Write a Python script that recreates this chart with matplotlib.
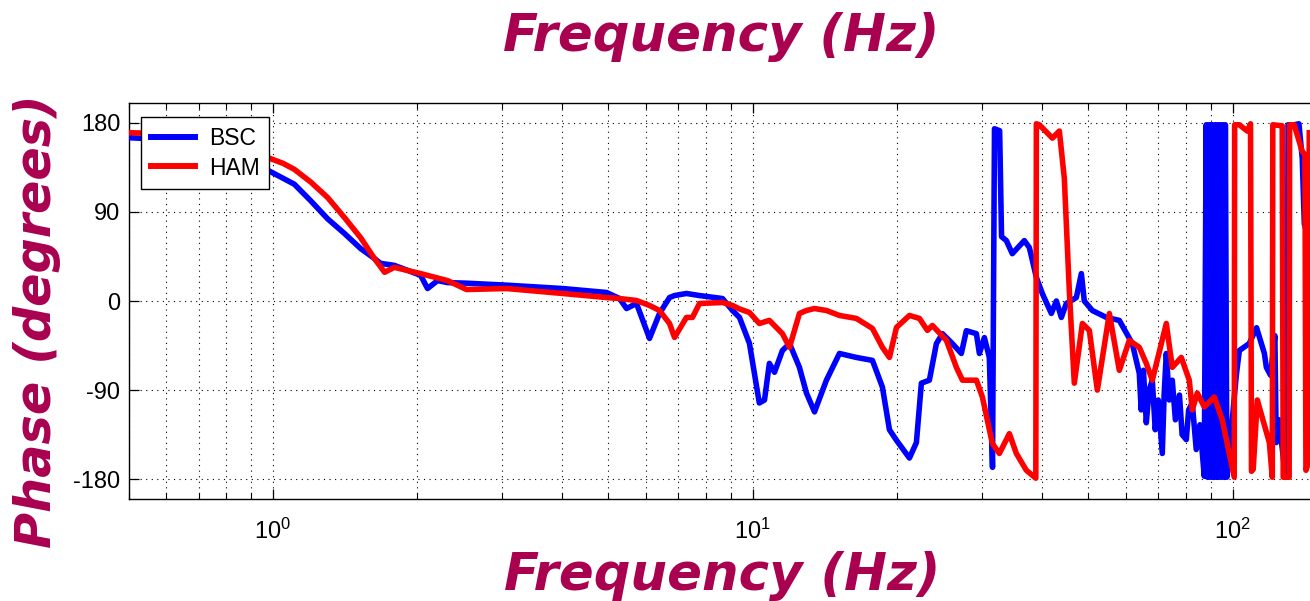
import matplotlib
matplotlib.use("Agg")
import matplotlib.pyplot as plt

# ---- measured phase responses -------------------------------------------
bsc_freq = [0.498, 0.55, 0.65, 0.75, 0.85, 0.95, 1.05, 1.108, 1.20, 1.30,
            1.411, 1.523, 1.627, 1.676, 1.79, 2.031, 2.10, 2.203, 2.312,
            2.532, 3.068, 4.013, 4.957, 5.277, 5.457, 5.724, 6.093, 6.392,
            6.707, 6.87, 7.274, 7.745, 8.648, 9.073, 9.383, 9.842, 10.32,
            10.58, 10.83, 11.10, 11.53, 11.93, 12.51, 12.94, 13.45, 14.24,
            15.16, 16.44, 17.76, 18.63, 19.27, 19.93, 21.21, 21.93, 22.46,
            23.34, 24.14, 24.85, 26.06, 27.21, 27.87, 29.25, 29.67, 30.39,
            31.12, 31.6, 31.9, 32.7, 33.0, 33.77, 34.75, 36.81, 37.71, 38.99,
            40.13, 41.91, 42.93, 43.97, 45.03, 47.25, 48.4, 49.09, 51.02,
            54.58, 58.07, 61.8, 63.91, 64.5, 65.2, 66.1, 67.0, 68.03, 69.0,
            70.0, 71.37, 72.0, 72.76, 73.8, 74.88, 76.0, 77.5, 78.5, 80.08,
            81.0, 82.41, 84.0, 85.5, 87.3,
            88.1, 88.6, 89.2, 89.8, 90.4, 91.0, 91.6, 92.2, 92.8, 93.4, 94.0,
            94.7, 95.3, 96.0, 96.6, 97.3,
            98.5, 99.86, 101.8, 103.3, 108.3, 112.2, 116.5, 117.6, 120.0,
            122.5, 123.3, 125.0, 128.0, 130.0, 130.5, 134.4, 137.5, 139.7,
            141.1, 144.5]
bsc_phase = [165, 164, 161, 155, 146, 135, 124, 118, 101, 83,
             68, 53, 43, 38, 36, 26, 12.6, 20.6, 18.6,
             18, 16, 12.6, 8.6, 2.5, -7.6, -2.5, -37.8, -12.6,
             3.5, 5.5, 7.6, 5.5, 2.5, -9.6, -16.6, -42.8, -103,
             -100, -63, -72, -50, -43, -67, -93, -112, -80,
             -53, -57, -60, -87, -130, -140.7, -158.6, -143, -83,
             -80, -43, -33, -43, -53, -30, -33, -53, -37,
             -57, -168, 174, 172, 65, 61, 47.8, 61, 54, 24,
             7.6, -12.6, 0, -16.6, -2.5, 3.5, 27.7, 0, -9.6,
             -16.6, -19.6, -43, -73, -110, -70, -123, -90, -80, -130,
             -100, -154, -95, -53, -100, -80, -120, -95, -135, -140,
             -110, -103, -150, -125, -177,
             178, -178, 178, -178, 178, -178, 178, -178, 178, -178, 178,
             -178, 178, -178, 178, -178,
             -150, -120, -75, -50, -43, -27, -53, -67, -75,
             -35, -143, -120, -165, -177, 178, 178, 179, 144,
             78, 60]

ham_freq = [0.498, 0.55, 0.65, 0.75, 0.85, 0.95, 1.05, 1.108, 1.20, 1.30,
            1.411, 1.523, 1.627, 1.709, 1.79, 2.031, 2.312, 2.532, 3.068,
            4.013, 4.957, 5.277, 5.724, 6.093, 6.392, 6.707, 6.87, 7.274,
            7.487, 7.745, 8.648, 9.073, 9.383, 9.842, 10.32, 10.83, 11.53,
            11.93, 12.51, 12.94, 13.45, 14.24, 15.16, 16.44, 17.76, 18.63,
            19.27, 19.93, 21.21, 22.25, 23.12, 23.68, 25.33, 26.57, 27.35,
            29.25, 30.10, 31.58, 32.66, 34.26, 35.43, 37.17, 38.9, 39.0,
            39.56, 42.12, 43.55, 44.6, 45.68, 46.79, 48.64, 50.29, 52.26,
            55.36, 58.07, 60.92, 63.91, 66.1, 68.03, 72.76, 74.88, 78.18,
            81.24, 82.41, 84.42, 87.3, 91.6, 95.17, 100.8, 101.0, 103.3,
            107.3, 109.0, 109.5, 110.4, 112.6, 119.3, 121.0, 121.3, 126.9,
            127.5, 131.2, 131.5, 134.4, 139.7, 141.5, 142.2, 143.5, 144.5]
ham_phase = [170, 169.5, 167, 162, 155, 147, 139, 133, 120, 104.5,
             84, 64, 43, 29, 34, 27.7, 20.6, 11.6, 12.6,
             7.6, 3.5, 2.5, 0.5, -4.5, -9.6, -22.7, -36.8, -16.6,
             -16.6, -2.5, -1.5, -4.5, -8, -11.6, -22.7, -19.6, -33,
             -46.8, -12.6, -9.6, -7.6, -9.6, -14.6, -17.6, -27.7, -46.8,
             -57, -26.7, -14.6, -17.6, -29.7, -24.7, -39.8, -67, -80,
             -80, -97, -144, -154, -134, -154, -171, -179, 179,
             178, 164.5, 171.7, 124, 10.6, -83, -22.7, -29.7, -90,
             -12.6, -70, -39.8, -46.8, -63, -80, -22.7, -67, -57,
             -80, -110, -93, -107, -97, -120, -178, 178, 178,
             171.7, 179, -172, -170, -100, -143, -178, 178, 177,
             -178, -178, 178, 178, 151, 148, -171, -165, 170]

y_ticks = [-180, -90, 0, 90, 180]
series_labels = ["BSC", "HAM"]
title_text = "Frequency (Hz)"
ylabel_text = "Phase (degrees)"

# ---- figure ---------------------------------------------------------------
W, H = 1310, 601
plt.rcParams["mathtext.default"] = "regular"
fig = plt.figure(figsize=(W / 100, H / 100), dpi=100)
fig.patch.set_facecolor("white")
ax = fig.add_axes([128.5 / W, 102 / H, 1181.5 / W, 396 / H])

tick_font = "Liberation Sans"

ax.plot(bsc_freq, bsc_phase, color="#0000ff", lw=4.0, label=series_labels[0],
        zorder=3)
ax.plot(ham_freq, ham_phase, color="#ff0000", lw=4.0, label=series_labels[1],
        zorder=4)

ax.set_xscale("log")
ax.set_xlim(0.5, 145)
ax.set_ylim(-200, 200)
ax.set_yticks(y_ticks)
ax.set_yticklabels([str(v) for v in y_ticks])

dots = (0, (1, 4))
ax.grid(True, which="major", axis="y", ls=dots, color="black", lw=0.8)
ax.grid(True, which="both", axis="x", ls=dots, color="black", lw=0.8)
ax.set_axisbelow(True)

ax.tick_params(which="both", direction="in", top=True, right=False,
               color="black")
ax.tick_params(which="major", length=7, width=0.9)
ax.tick_params(which="minor", length=4, width=0.8)
ax.tick_params(axis="x", which="major", pad=14)
ax.tick_params(axis="y", pad=6)
for lab in ax.get_xticklabels() + ax.get_yticklabels():
    lab.set_fontfamily(tick_font)
    lab.set_fontsize(17)

for side in ("left", "top", "bottom"):
    ax.spines[side].set_linewidth(1.0)
    ax.spines[side].set_color("black")
ax.spines["right"].set_visible(False)

leg = ax.legend(loc="upper left", bbox_to_anchor=(0.0106, 0.9646),
                borderaxespad=0, fancybox=False, framealpha=1,
                edgecolor="black", handlelength=1.95, handletextpad=0.6,
                labelspacing=0.3, borderpad=0.42,
                prop={"family": tick_font, "size": 16.5})
leg.get_frame().set_linewidth(1.0)
leg.set_zorder(10)
for handle in leg.get_lines():
    handle.set_linewidth(4.3)

maroon = "#AA0050"
label_kw = dict(fontweight="bold", style="italic", color=maroon,
                family="DejaVu Sans")
fig.text(721 / W, (H - 51) / H, title_text, ha="center", va="baseline",
         fontsize=37, **label_kw)
fig.text(722 / W, (H - 590) / H, title_text, ha="center", va="baseline",
         fontsize=37, **label_kw)
fig.text(37 / W, (H - 321) / H, ylabel_text, rotation=90, ha="center",
         va="center", fontsize=35.5, **label_kw)

fig.savefig("out.png", dpi=100, facecolor="white")
